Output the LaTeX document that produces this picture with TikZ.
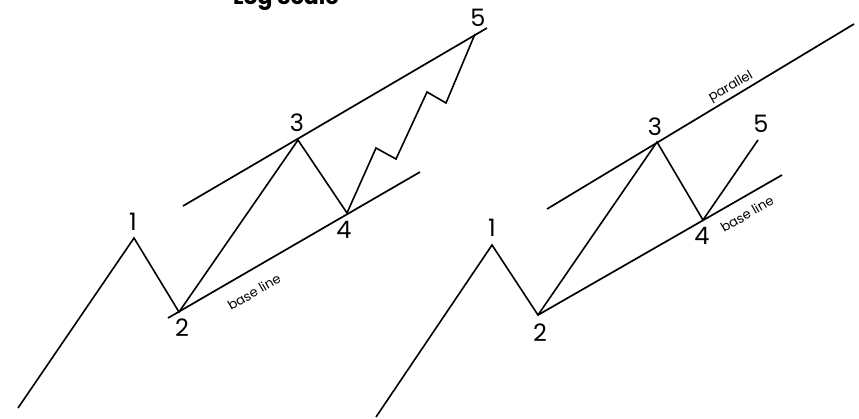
\documentclass[tikz,border=0pt]{standalone}
\usepackage{fontspec}
\setmainfont{Poppins}
\begin{document}
\begin{tikzpicture}[x=1pt,y=-1pt,
  wave/.style={line width=1.6pt,line join=miter},
  chan/.style={line width=1.7pt},
  num/.style={font=\fontsize{24}{24}\selectfont,inner sep=0pt},
  lbl/.style={font=\fontsize{13}{13}\selectfont,inner sep=1pt,rotate=30}]
\useasboundingbox (0,0) rectangle (859,418);
\node[font=\fontsize{22}{22}\selectfont\bfseries,anchor=base] (title) at (286,4) {Log Scale};
% ---- left ----
\coordinate (a0) at (18,408);
\coordinate (a1) at (134,238);
\coordinate (a2) at (179,312);
\coordinate (a3) at (298,140);
\coordinate (a4) at (347,213);
\coordinate (z1) at (376,148);
\coordinate (z2) at (396,159);
\coordinate (z3) at (427,92);
\coordinate (z4) at (446,103);
\coordinate (a5) at (475,34);
\coordinate (ua) at (183,206);
\coordinate (ub) at (487,28);
\coordinate (ba) at (168,318);
\coordinate (bb) at (420,172);
\draw[wave] (a0) -- (a1) -- (a2) -- (a3) -- (a4) -- (z1) -- (z2) -- (z3) -- (z4) -- (a5);
\draw[chan] (ua) -- (ub);
\draw[chan] (ba) -- (bb);
\node[num] (l1) at (133,222) {1};
\node[num] (l2) at (182,328) {2};
\node[num] (l3) at (297,123) {3};
\node[num] (l4) at (344,230) {4};
\node[num] (l5) at (478,18) {5};
\node[lbl] (bl1) at (254,292) {base line};
% ---- right ----
\coordinate (b0) at (376,417);
\coordinate (b1) at (492,245);
\coordinate (b2) at (538,315);
\coordinate (b3) at (657,142);
\coordinate (b4) at (703,220);
\coordinate (b5) at (758,140);
\coordinate (pa) at (547,209);
\coordinate (pb) at (854,24);
\coordinate (qb) at (782,175);
\draw[wave] (b0) -- (b1) -- (b2) -- (b3) -- (b4) -- (b5);
\draw[chan] (pa) -- (pb);
\draw[chan] (b2) -- (qb);
\node[num] (r1) at (492,228) {1};
\node[num] (r2) at (540,333) {2};
\node[num] (r3) at (655,127) {3};
\node[num] (r4) at (702,236) {4};
\node[num] (r5) at (761,124) {5};
\node[lbl] (pl) at (731,87) {parallel};
\node[lbl] (bl2) at (747,214) {base line};
\end{tikzpicture}
\end{document}
